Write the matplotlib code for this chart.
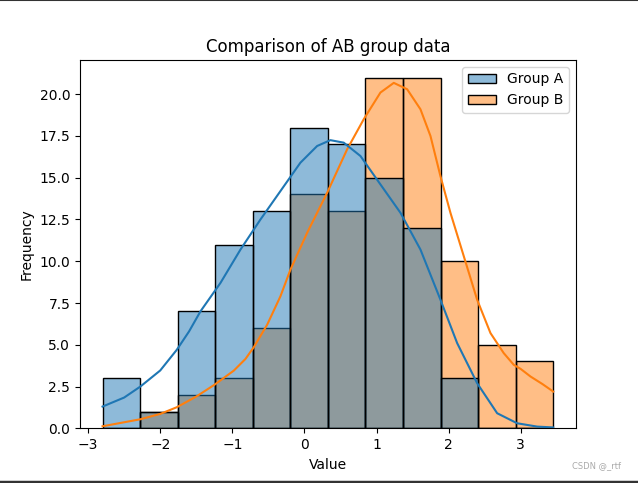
import matplotlib
matplotlib.use("Agg")
import matplotlib.pyplot as plt
from matplotlib.patches import Patch
from matplotlib.lines import Line2D
import numpy as np

# bin edges shared by both groups
bin_edges = np.linspace(-2.8, 3.45, 13)

counts_a = [3, 1, 7, 11, 13, 18, 17, 15, 12, 3, 0, 0]
counts_b = [0, 1, 2, 3, 6, 14, 13, 21, 21, 10, 5, 4]

# kde curves
kde_a_x = [-2.8, -2.5, -2.275, -2.0, -1.77, -1.6, -1.442, -1.165, -0.887,
           -0.61, -0.333, -0.056, 0.176, 0.36, 0.545, 0.777, 1.054, 1.332,
           1.609, 1.886, 2.118, 2.395, 2.673, 2.95, 3.228, 3.45]
kde_a_y = [1.3, 1.84, 2.5, 3.46, 4.7, 5.8, 7.0, 8.7, 10.7,
           12.5, 14.2, 15.9, 16.9, 17.25, 17.1, 16.3, 14.6, 12.9,
           10.7, 7.7, 5.1, 2.7, 0.9, 0.3, 0.1, 0.05]
kde_b_x = [-2.8, -2.5, -2.275, -2.0, -1.77, -1.5, -1.25, -0.98, -0.818,
           -0.703, -0.517, -0.333, -0.194, 0.037, 0.315, 0.592, 0.822, 1.054,
           1.239, 1.424, 1.609, 1.748, 1.886, 2.025, 2.21, 2.395, 2.58,
           2.764, 2.903, 3.0, 3.135, 3.3, 3.45]
kde_b_y = [0.12, 0.36, 0.54, 0.86, 1.26, 1.9, 2.6, 3.45, 4.15,
           4.85, 6.2, 7.9, 9.5, 11.7, 14.1, 16.7, 18.5, 20.1,
           20.68, 20.3, 19.1, 17.5, 15.1, 12.9, 10.3, 7.7, 5.7,
           4.5, 3.8, 3.55, 3.1, 2.65, 2.2]

labels = ["Group A", "Group B"]
blue = "#1f77b4"
orange = "#ff7f0e"

fig = plt.figure(figsize=(6.38, 4.83), dpi=100)
ax = fig.add_axes([0.1254, 0.1133, 0.777, 0.7625])

widths = np.diff(bin_edges)
ax.bar(bin_edges[:-1], counts_b, width=widths, align="edge",
       facecolor=orange, alpha=0.5, edgecolor="none")
ax.bar(bin_edges[:-1], counts_b, width=widths, align="edge",
       facecolor="none", edgecolor="black", linewidth=1)
ax.bar(bin_edges[:-1], counts_a, width=widths, align="edge",
       facecolor=blue, alpha=0.5, edgecolor="none")
ax.bar(bin_edges[:-1], counts_a, width=widths, align="edge",
       facecolor="none", edgecolor="black", linewidth=1)

ax.plot(kde_b_x, kde_b_y, color=orange, lw=1.5)
ax.plot(kde_a_x, kde_a_y, color=blue, lw=1.5)

ax.set_xlim(-3.1125, 3.7625)
ax.set_ylim(0, 22.05)
ax.set_title("Comparison of AB group data")
ax.set_xlabel("Value")
ax.set_ylabel("Frequency")

handles = [Patch(facecolor=(0.122, 0.467, 0.706, 0.5), edgecolor="black", label=labels[0]),
           Patch(facecolor=(1.0, 0.498, 0.055, 0.5), edgecolor="black", label=labels[1])]
ax.legend(handles=handles, loc="upper right")

fig.text(0.935, 0.031, "CSDN @_rtf", fontsize=6, color="#aaaaaa", ha="center")
fig.add_artist(Line2D([0, 1], [0.999, 0.999], transform=fig.transFigure, color="#333333", lw=1.5))
fig.add_artist(Line2D([0, 1], [0.002, 0.002], transform=fig.transFigure, color="#333333", lw=2.5))

fig.savefig("out.png", dpi=100)
